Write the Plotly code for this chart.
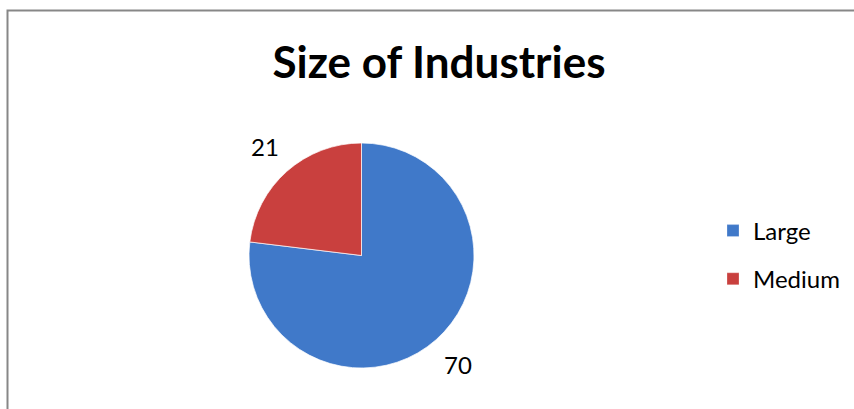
import math
import plotly.graph_objects as go

# Industry counts by size
categories = ["Large", "Medium"]
counts = [70, 21]
colors = ["#4079C9", "#C9403E"]

W, H = 854, 409

def px_x(x):
    return x / W

def px_y(y):
    return 1 - y / H

# Pie placement (pixels)
CX, CY, R = 361.5, 255.5, 112.5
LABEL_R = 146

fig = go.Figure()

fig.add_trace(go.Pie(
    labels=categories,
    values=counts,
    sort=False,
    direction="clockwise",
    rotation=0,
    marker=dict(colors=colors, line=dict(color="rgba(255,255,255,0.7)", width=1)),
    textinfo="none",
    domain=dict(x=[px_x(CX - R), px_x(CX + R)], y=[px_y(CY + R), px_y(CY - R)]),
    showlegend=False,
    hoverinfo="label+value",
))

# Legend entries, one group per category so the gap spaces them out
for i, (name, col) in enumerate(zip(categories, colors)):
    fig.add_trace(go.Scatter(
        x=[None], y=[None], mode="markers", name=name,
        legendgroup=f"g{i}",
        marker=dict(symbol="square", size=12, color=col,
                    line=dict(color="rgba(255,255,255,0.5)", width=0.5)),
        hoverinfo="skip",
    ))

# Value labels just beyond each slice, at the slice's mid-angle
total = sum(counts)
annotations = []
start = 0.0
for v in counts:
    mid = (start + v / 2) / total * 2 * math.pi  # clockwise from 12 o'clock
    start += v
    lx = CX + LABEL_R * math.sin(mid)
    ly = CY - LABEL_R * math.cos(mid)
    annotations.append(dict(
        x=px_x(lx), y=px_y(ly), xref="paper", yref="paper",
        text=str(v), showarrow=False,
        xanchor="center", yanchor="middle",
        font=dict(family="Lato", size=24, color="#000000"),
    ))

fig.update_layout(
    width=W,
    height=H,
    margin=dict(l=0, r=0, t=0, b=0),
    paper_bgcolor="#FFFFFF",
    plot_bgcolor="#FFFFFF",
    xaxis=dict(visible=False),
    yaxis=dict(visible=False),
    title=dict(
        text="<b>Size of Industries</b>",
        font=dict(family="Lato", size=44, color="#000000"),
        x=px_x(439), xanchor="center",
        y=px_y(63), yanchor="middle",
    ),
    legend=dict(
        x=px_x(713), xanchor="left",
        y=px_y(255), yanchor="middle",
        font=dict(family="Lato", size=24, color="#000000"),
        bgcolor="rgba(0,0,0,0)",
        tracegroupgap=14,
    ),
    annotations=annotations,
    shapes=[dict(
        type="rect", xref="paper", yref="paper",
        x0=px_x(7.5), x1=1.05, y0=-0.05, y1=px_y(10.5),
        line=dict(color="#878787", width=2),
        fillcolor="rgba(0,0,0,0)", layer="below",
    )],
)

fig.write_html("out.html")
